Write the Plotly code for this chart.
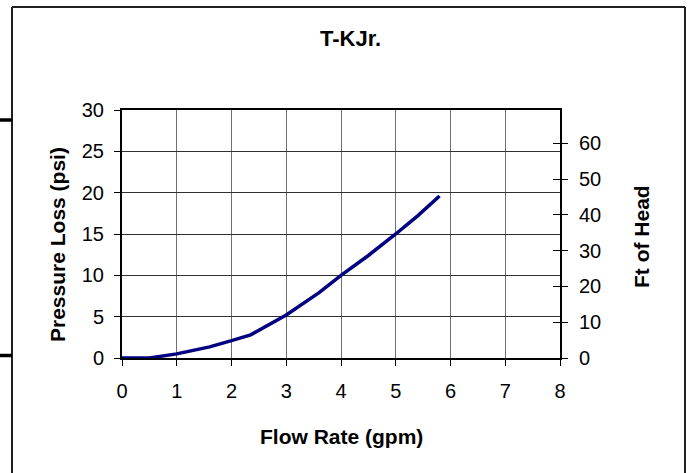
import plotly.graph_objects as go

flow_gpm = [0, 0.5, 1.0, 1.6, 2.0, 2.35, 3.0, 3.6, 4.0, 4.5, 5.0, 5.4, 5.8]
loss_psi = [0, 0, 0.5, 1.35, 2.1, 2.8, 5.2, 7.9, 10.0, 12.4, 15.0, 17.2, 19.6]
x_ticks = [0, 1, 2, 3, 4, 5, 6, 7, 8]
psi_ticks = [0, 5, 10, 15, 20, 25, 30]
ft_ticks = [0, 10, 20, 30, 40, 50, 60]
PSI_TO_FT = 2.31

title = "T-KJr."
x_title = "Flow Rate (gpm)"
y_title = "Pressure Loss (psi)"
y2_title = "Ft of Head"

W, H = 691, 473
L, R, T, B = 122, 560, 110, 358
pw, ph = R - L, B - T

def px(xp):
    return (xp - L) / pw

def py(yp):
    return (B - yp) / ph

font = "Arial, 'Liberation Sans', sans-serif"
TICK = 20

fig = go.Figure()
fig.add_trace(go.Scatter(x=flow_gpm, y=loss_psi, mode="lines",
                         line=dict(color="#000080", width=3.5),
                         showlegend=False, hoverinfo="skip"))

fig.update_layout(
    width=W, height=H,
    margin=dict(l=L, r=W - R, t=T, b=H - B, pad=0),
    paper_bgcolor="white", plot_bgcolor="white",
    font=dict(family=font, size=TICK, color="black"),
    showlegend=False,
    xaxis=dict(range=[0, 8], tickvals=x_ticks, ticks="outside", ticklen=6,
               tickcolor="black", tickwidth=1,
               showgrid=True, gridcolor="#707070", gridwidth=1,
               showline=True, linecolor="black", linewidth=1.5, mirror=True,
               zeroline=False, ticklabelstandoff=8,
               tickfont=dict(size=TICK)),
    yaxis=dict(range=[0, 30], tickvals=psi_ticks, ticks="outside", ticklen=6,
               tickcolor="black", tickwidth=1,
               showgrid=True, gridcolor="#303030", gridwidth=1,
               showline=True, linecolor="black", linewidth=2, mirror=True,
               zeroline=False, ticklabelstandoff=6,
               tickfont=dict(size=TICK)),
    yaxis2=dict(range=[0, 30 * PSI_TO_FT], tickvals=ft_ticks, overlaying="y",
                side="right", ticks="outside", ticklen=7, tickcolor="black",
                tickwidth=1, showgrid=False, zeroline=False, showline=False,
                ticklabelstandoff=7, tickfont=dict(size=TICK)),
    yaxis3=dict(range=[0, 30 * PSI_TO_FT], tickvals=ft_ticks, overlaying="y",
                side="right", ticks="inside", ticklen=7, tickcolor="black",
                tickwidth=1, showgrid=False, zeroline=False, showline=False,
                showticklabels=False),
)
fig.add_trace(go.Scatter(x=[0], y=[0], yaxis="y2", mode="markers",
                         marker=dict(opacity=0), showlegend=False, hoverinfo="skip"))
fig.add_trace(go.Scatter(x=[0], y=[0], yaxis="y3", mode="markers",
                         marker=dict(opacity=0), showlegend=False, hoverinfo="skip"))

fig.add_annotation(text="<b>" + title + "</b>", x=px(350), y=py(38),
                   xref="paper", yref="paper", showarrow=False,
                   font=dict(size=22, family=font), xanchor="center", yanchor="middle")
fig.add_annotation(text="<b>" + x_title + "</b>", x=px(341), y=py(436),
                   xref="paper", yref="paper", showarrow=False,
                   font=dict(size=21, family=font), xanchor="center", yanchor="middle")
fig.add_annotation(text="<b>" + y_title + "</b>", x=px(57), y=py(245),
                   xref="paper", yref="paper", showarrow=False, textangle=-90,
                   font=dict(size=21, family=font), xanchor="center", yanchor="middle")
fig.add_annotation(text="<b>" + y2_title + "</b>", x=px(641), y=py(237),
                   xref="paper", yref="paper", showarrow=False, textangle=-90,
                   font=dict(size=21, family=font), xanchor="center", yanchor="middle")

border = dict(color="#202020", width=2)
top_y = py(7)
bot_y = py(480)
fig.add_shape(type="line", xref="paper", yref="paper",
              x0=px(12), x1=px(685), y0=top_y, y1=top_y, line=border)
fig.add_shape(type="line", xref="paper", yref="paper",
              x0=px(12), x1=px(12), y0=top_y, y1=bot_y, line=border)
fig.add_shape(type="line", xref="paper", yref="paper",
              x0=px(685), x1=px(685), y0=top_y, y1=bot_y, line=border)
for yy in (120, 355.5):
    fig.add_shape(type="line", xref="paper", yref="paper",
                  x0=px(0), x1=px(12), y0=py(yy), y1=py(yy),
                  line=dict(color="black", width=3.5))

fig.write_html("out.html", config={"displayModeBar": False},
               post_script="document.body.style.margin='0';document.body.style.overflow='hidden';")
